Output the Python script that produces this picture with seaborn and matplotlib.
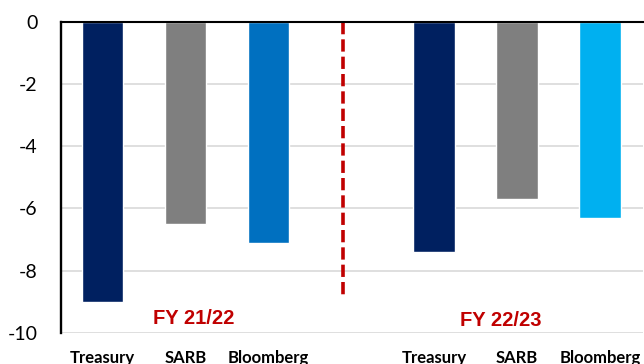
import matplotlib
matplotlib.use("Agg")
import matplotlib.pyplot as plt
import seaborn as sns
import pandas as pd

# Budget deficit forecasts (% of GDP) by source and fiscal year
sources = ["Treasury", "SARB", "Bloomberg"]
fy_labels = ["FY 21/22", "FY 22/23"]
fy2122_values = [-9.0, -6.5, -7.1]
fy2223_values = [-7.4, -5.7, -6.3]
bar_colors_2122 = ["#002060", "#7F7F7F", "#0070C0"]
bar_colors_2223 = ["#002060", "#7F7F7F", "#00B0F0"]
y_ticks = [0, -2, -4, -6, -8, -10]

keys_2122 = [f"{s} {fy_labels[0]}" for s in sources]
keys_2223 = [f"{s} {fy_labels[1]}" for s in sources]
df = pd.DataFrame({
    "key": keys_2122 + keys_2223,
    "value": fy2122_values + fy2223_values,
})
order = keys_2122 + ["gap"] + keys_2223
palette = dict(zip(keys_2122 + keys_2223, bar_colors_2122 + bar_colors_2223))

sns.set_theme(style="white")
plt.rcParams["font.family"] = ["Lato", "DejaVu Sans"]

fig = plt.figure(figsize=(6.44, 3.64), dpi=100)
ax = fig.add_axes([61 / 644, 31.3 / 364, 582 / 644, (332.7 - 22) / 364])

sns.barplot(data=df, x="key", y="value", hue="key", order=order,
            hue_order=keys_2122 + keys_2223, palette=palette,
            width=0.5, saturation=1, legend=False, ax=ax, zorder=3)

ax.set_xlim(-0.5, 6.52)
ax.set_ylim(-10, 0)
ax.set_yticks(y_ticks)
ax.set_yticklabels([str(t) for t in y_ticks], fontsize=14, color="black")
ax.set_xticks(range(len(order)))
ax.set_xticklabels(sources + [""] + sources, fontsize=12, fontweight="bold",
                   color="black")
ax.tick_params(axis="y", length=0, pad=17)
ax.tick_params(axis="x", length=0, pad=12.5)
ax.set_xlabel("")
ax.set_ylabel("")

ax.yaxis.grid(True, color="#D9D9D9", linewidth=1.2, zorder=0)
ax.set_axisbelow(True)
for side in ["right", "bottom"]:
    ax.spines[side].set_visible(False)
ax.spines["top"].set_color("black")
ax.spines["top"].set_linewidth(1.5)
ax.spines["top"].set_zorder(4)
ax.spines["left"].set_color("black")
ax.spines["left"].set_linewidth(1.7)
ax.spines["left"].set_zorder(4)

# separator between the two fiscal years
ax.plot([2.9, 2.9], [0, -8.9], color="#C00000", linewidth=2.6,
        dashes=(3.4, 1.4), zorder=2)

ax.text(1.1, -9.55, fy_labels[0], color="#C00000", fontsize=14.5,
        fontweight="bold", family=["Liberation Sans", "DejaVu Sans"],
        ha="center", va="center")
ax.text(4.805, -9.61, fy_labels[1], color="#C00000", fontsize=14.5,
        fontweight="bold", family=["Liberation Sans", "DejaVu Sans"],
        ha="center", va="center")

fig.savefig("out.png", dpi=100)
